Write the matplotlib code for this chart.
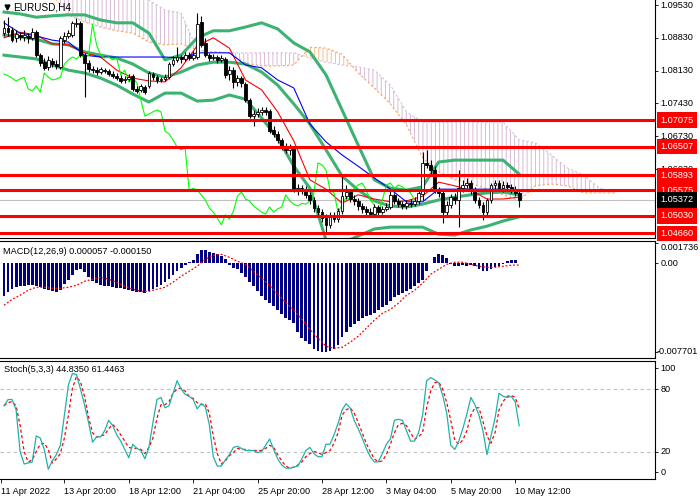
import matplotlib
matplotlib.use("Agg")
import matplotlib.pyplot as plt
import numpy as np

plt.rcParams['font.family'] = ['Liberation Sans', 'DejaVu Sans']
plt.rcParams['hatch.linewidth'] = 0.7

# EURUSD H4 candles
opens = [
    1.0893, 1.0904, 1.0900, 1.0883, 1.0889, 1.0885, 1.0887, 1.0883, 1.0895, 1.0846,
    1.0831, 1.0821, 1.0834, 1.0827, 1.0821, 1.0878, 1.0887, 1.0889, 1.0912, 1.0915,
    1.0846, 1.0829, 1.0816, 1.0814, 1.0810, 1.0814, 1.0812, 1.0806, 1.0802, 1.0797,
    1.0793, 1.0795, 1.0802, 1.0774, 1.0772, 1.0778, 1.0780, 1.0806, 1.0799, 1.0793,
    1.0795, 1.0799, 1.0827, 1.0836, 1.0842, 1.0838, 1.0846, 1.0840, 1.0842, 1.0917,
    1.0872, 1.0846, 1.0840, 1.0842, 1.0836, 1.0838, 1.0806, 1.0814, 1.0789, 1.0797,
    1.0784, 1.0750, 1.0716, 1.0720, 1.0725, 1.0729, 1.0727, 1.0686, 1.0678, 1.0665,
    1.0650, 1.0644, 1.0648, 1.0558, 1.0562, 1.0558, 1.0548, 1.0537, 1.0520, 1.0511,
    1.0498, 1.0484, 1.0505, 1.0496, 1.0513, 1.0545, 1.0554, 1.0539, 1.0535, 1.0524,
    1.0518, 1.0511, 1.0507, 1.0522, 1.0511, 1.0518, 1.0522, 1.0548, 1.0535, 1.0528,
    1.0524, 1.0530, 1.0528, 1.0535, 1.0550, 1.0616, 1.0612, 1.0601, 1.0558, 1.0552,
    1.0511, 1.0526, 1.0543, 1.0537, 1.0562, 1.0569, 1.0573, 1.0558, 1.0537, 1.0526,
    1.0511, 1.0537, 1.0569, 1.0573, 1.0562, 1.0569, 1.0565, 1.0558, 1.0552]
highs = [
    1.0921, 1.0927, 1.0906, 1.0900, 1.0895, 1.0900, 1.0893, 1.0904, 1.0900, 1.0851,
    1.0840, 1.0844, 1.0840, 1.0836, 1.0887, 1.0895, 1.0900, 1.0919, 1.0925, 1.0919,
    1.0851, 1.0836, 1.0823, 1.0821, 1.0821, 1.0819, 1.0816, 1.0812, 1.0808, 1.0804,
    1.0802, 1.0806, 1.0806, 1.0780, 1.0784, 1.0782, 1.0812, 1.0810, 1.0804, 1.0799,
    1.0806, 1.0831, 1.0844, 1.0863, 1.0846, 1.0853, 1.0853, 1.0855, 1.0936, 1.0930,
    1.0883, 1.0851, 1.0848, 1.0846, 1.0846, 1.0842, 1.0823, 1.0821, 1.0804, 1.0802,
    1.0789, 1.0755, 1.0729, 1.0733, 1.0735, 1.0735, 1.0731, 1.0695, 1.0684, 1.0669,
    1.0659, 1.0656, 1.0652, 1.0571, 1.0569, 1.0567, 1.0554, 1.0543, 1.0526, 1.0518,
    1.0507, 1.0511, 1.0511, 1.0520, 1.0592, 1.0569, 1.0558, 1.0548, 1.0541, 1.0530,
    1.0524, 1.0520, 1.0528, 1.0526, 1.0524, 1.0530, 1.0558, 1.0552, 1.0541, 1.0535,
    1.0537, 1.0539, 1.0543, 1.0558, 1.0639, 1.0644, 1.0622, 1.0609, 1.0565, 1.0558,
    1.0535, 1.0550, 1.0552, 1.0601, 1.0580, 1.0584, 1.0580, 1.0565, 1.0543, 1.0533,
    1.0541, 1.0573, 1.0580, 1.0580, 1.0577, 1.0575, 1.0571, 1.0567, 1.0558]
lows = [
    1.0887, 1.0887, 1.0874, 1.0874, 1.0878, 1.0876, 1.0872, 1.0878, 1.0842, 1.0823,
    1.0814, 1.0814, 1.0821, 1.0816, 1.0816, 1.0872, 1.0883, 1.0885, 1.0906, 1.0842,
    1.0757, 1.0810, 1.0808, 1.0804, 1.0806, 1.0808, 1.0802, 1.0797, 1.0793, 1.0787,
    1.0787, 1.0791, 1.0770, 1.0765, 1.0767, 1.0763, 1.0776, 1.0793, 1.0787, 1.0789,
    1.0791, 1.0795, 1.0823, 1.0831, 1.0829, 1.0834, 1.0836, 1.0836, 1.0838, 1.0863,
    1.0842, 1.0834, 1.0836, 1.0829, 1.0831, 1.0797, 1.0793, 1.0776, 1.0780, 1.0778,
    1.0746, 1.0712, 1.0695, 1.0714, 1.0718, 1.0718, 1.0680, 1.0671, 1.0659, 1.0644,
    1.0637, 1.0633, 1.0554, 1.0548, 1.0550, 1.0541, 1.0528, 1.0511, 1.0505, 1.0490,
    1.0467, 1.0477, 1.0490, 1.0490, 1.0507, 1.0539, 1.0533, 1.0526, 1.0516, 1.0509,
    1.0503, 1.0501, 1.0501, 1.0505, 1.0507, 1.0513, 1.0518, 1.0528, 1.0522, 1.0518,
    1.0518, 1.0522, 1.0524, 1.0528, 1.0537, 1.0605, 1.0592, 1.0552, 1.0543, 1.0488,
    1.0505, 1.0520, 1.0528, 1.0479, 1.0554, 1.0562, 1.0550, 1.0530, 1.0520, 1.0494,
    1.0505, 1.0530, 1.0558, 1.0556, 1.0554, 1.0558, 1.0552, 1.0545, 1.0522]
closes = [
    1.0904, 1.0895, 1.0878, 1.0891, 1.0885, 1.0889, 1.0883, 1.0895, 1.0846, 1.0829,
    1.0819, 1.0836, 1.0827, 1.0823, 1.0883, 1.0887, 1.0893, 1.0915, 1.0915, 1.0846,
    1.0829, 1.0816, 1.0814, 1.0810, 1.0816, 1.0812, 1.0806, 1.0802, 1.0797, 1.0791,
    1.0795, 1.0799, 1.0774, 1.0770, 1.0780, 1.0767, 1.0808, 1.0799, 1.0793, 1.0795,
    1.0799, 1.0827, 1.0836, 1.0842, 1.0838, 1.0846, 1.0840, 1.0846, 1.0912, 1.0868,
    1.0846, 1.0840, 1.0842, 1.0836, 1.0840, 1.0804, 1.0814, 1.0789, 1.0797, 1.0787,
    1.0750, 1.0716, 1.0720, 1.0725, 1.0729, 1.0725, 1.0684, 1.0678, 1.0665, 1.0650,
    1.0644, 1.0648, 1.0558, 1.0562, 1.0558, 1.0548, 1.0537, 1.0520, 1.0511, 1.0498,
    1.0484, 1.0505, 1.0496, 1.0513, 1.0545, 1.0554, 1.0539, 1.0535, 1.0524, 1.0518,
    1.0511, 1.0507, 1.0522, 1.0511, 1.0518, 1.0522, 1.0548, 1.0535, 1.0528, 1.0524,
    1.0530, 1.0528, 1.0535, 1.0552, 1.0616, 1.0612, 1.0601, 1.0558, 1.0552, 1.0511,
    1.0526, 1.0543, 1.0537, 1.0562, 1.0569, 1.0573, 1.0558, 1.0537, 1.0526, 1.0511,
    1.0537, 1.0569, 1.0573, 1.0562, 1.0569, 1.0565, 1.0558, 1.0552, 1.05372]

# indicator lines, one value every 4 bars
bb_upper = [1.0938, 1.0934, 1.0927, 1.0930, 1.0932, 1.0932, 1.0921, 1.0915, 1.0915, 1.0893,
            1.0836, 1.0846, 1.0883, 1.0898, 1.0898, 1.0906, 1.0915, 1.0902, 1.0872, 1.0853,
            1.0804, 1.0729, 1.0654, 1.0580, 1.0562, 1.0558, 1.0565, 1.0618, 1.0622, 1.0622,
            1.0622, 1.0622, 1.0592]
bb_middle = [1.0889, 1.0885, 1.0880, 1.0870, 1.0868, 1.0853, 1.0846, 1.0840, 1.0827, 1.0808,
             1.0799, 1.0810, 1.0825, 1.0831, 1.0831, 1.0827, 1.0810, 1.0782, 1.0742, 1.0699,
             1.0644, 1.0588, 1.0558, 1.0535, 1.0524, 1.0522, 1.0528, 1.0537, 1.0543, 1.0548,
             1.0552, 1.0554, 1.0548]
bb_lower = [1.0846, 1.0842, 1.0838, 1.0825, 1.0814, 1.0808, 1.0797, 1.0782, 1.0763, 1.0746,
            1.0765, 1.0765, 1.0748, 1.0750, 1.0761, 1.0752, 1.0712, 1.0669, 1.0609, 1.0562,
            1.0452, 1.0445, 1.0460, 1.0475, 1.0479, 1.0479, 1.0479, 1.0464, 1.0462, 1.0473,
            1.0481, 1.0492, 1.0501]
tenkan = [1.0883, 1.0895, 1.0889, 1.0870, 1.0868, 1.0851, 1.0842, 1.0814, 1.0797, 1.0791,
          1.0789, 1.0819, 1.0866, 1.0883, 1.0861, 1.0793, 1.0772, 1.0725, 1.0663, 1.0580,
          1.0560, 1.0530, 1.0548, 1.0539, 1.0533, 1.0535, 1.0545, 1.0575, 1.0567, 1.0558,
          1.0539, 1.0539, 1.0543]
kijun = [1.0915, 1.0893, 1.0887, 1.0878, 1.0874, 1.0846, 1.0842, 1.0842, 1.0842, 1.0842,
         1.0842, 1.0840, 1.0851, 1.0851, 1.0851, 1.0825, 1.0819, 1.0793, 1.0776, 1.0699,
         1.0661, 1.0633, 1.0609, 1.0584, 1.0560, 1.0533, 1.0533, 1.0560, 1.0560, 1.0560,
         1.0560, 1.0560, 1.0558]
senkou_a = [1.0996, 1.0996, 1.0985, 1.0974, 1.0932, 1.0917, 1.0906, 1.0898, 1.0893, 1.0874,
            1.0868, 1.0870, 1.0857, 1.0853, 1.0851, 1.0829, 1.0823, 1.0823, 1.0825, 1.0863,
            1.0861, 1.0848, 1.0808, 1.0776, 1.0742, 1.0697, 1.0627, 1.0597, 1.0580, 1.0573,
            1.0560, 1.0548, 1.0535, 1.0567, 1.0571, 1.0567, 1.0552, 1.0552, 1.0552]
senkou_b = [1.0996, 1.0996, 1.0989, 1.0985, 1.0974, 1.0974, 1.0974, 1.0974, 1.0970, 1.0964,
            1.0942, 1.0936, 1.0857, 1.0853, 1.0851, 1.0851, 1.0851, 1.0851, 1.0851, 1.0840,
            1.0831, 1.0825, 1.0821, 1.0814, 1.0782, 1.0725, 1.0703, 1.0703, 1.0703, 1.0703,
            1.0703, 1.0703, 1.0665, 1.0659, 1.0633, 1.0605, 1.0590, 1.0562, 1.0554]

levels = [1.07075, 1.06507, 1.05893, 1.05575, 1.05030, 1.04660]
price_ticks = [1.09530, 1.08830, 1.08130, 1.07430, 1.06730, 1.06030]

# MACD(12,26,9)
macd_hist = [
    -0.00287, -0.00253, -0.00226, -0.00209, -0.00200, -0.00200, -0.00192, -0.00192, -0.00200, -0.00209,
    -0.00226, -0.00235, -0.00244, -0.00253, -0.00235, -0.00183, -0.00148, -0.00105, -0.00061, -0.00052,
    -0.00078, -0.00122, -0.00157, -0.00174, -0.00192, -0.00200, -0.00200, -0.00209, -0.00218, -0.00218,
    -0.00226, -0.00235, -0.00244, -0.00253, -0.00253, -0.00261, -0.00244, -0.00226, -0.00209, -0.00192,
    -0.00165, -0.00139, -0.00105, -0.00070, -0.00044, -0.00017, 0.00009, 0.00026, 0.00078, 0.00113,
    0.00113, 0.00096, 0.00087, 0.00078, 0.00061, 0.00035, -0.00017, -0.00044, -0.00052, -0.00087,
    -0.00122, -0.00165, -0.00200, -0.00244, -0.00287, -0.00322, -0.00348, -0.00375, -0.00409, -0.00444,
    -0.00479, -0.00496, -0.00523, -0.00601, -0.00653, -0.00679, -0.00706, -0.00749, -0.00766, -0.00770,
    -0.00770, -0.00768, -0.00749, -0.00714, -0.00645, -0.00601, -0.00557, -0.00531, -0.00505, -0.00479,
    -0.00462, -0.00453, -0.00436, -0.00409, -0.00383, -0.00366, -0.00331, -0.00296, -0.00279, -0.00261,
    -0.00244, -0.00226, -0.00200, -0.00174, -0.00148, -0.00070, 0.00000, 0.00052, 0.00078, 0.00070,
    0.00044, -0.00009, -0.00026, -0.00026, -0.00017, -0.00026, -0.00017, -0.00026, -0.00052, -0.00070,
    -0.00070, -0.00052, -0.00035, -0.00026, -0.00009, 0.00017, 0.00026, 0.00026, 0.000057]
# signal line, one value every 2 bars
macd_signal = [
    -0.00366, -0.00314, -0.00279, -0.00235, -0.00209, -0.00209, -0.00218, -0.00218, -0.00209, -0.00192,
    -0.00157, -0.00139, -0.00122, -0.00139, -0.00165, -0.00200, -0.00226, -0.00244, -0.00244, -0.00226,
    -0.00209, -0.00165, -0.00113, -0.00070, -0.00026, 0.00035, 0.00070, 0.00078, 0.00052, 0.00017,
    -0.00009, -0.00070, -0.00131, -0.00192, -0.00270, -0.00340, -0.00409, -0.00488, -0.00575, -0.00653,
    -0.00723, -0.00740, -0.00732, -0.00688, -0.00636, -0.00566, -0.00496, -0.00436, -0.00401, -0.00348,
    -0.00279, -0.00235, -0.00174, -0.00096, -0.00052, -0.00009, 0.00009, 0.00009, -0.00009, -0.00026,
    -0.00035, -0.00035, -0.00026, -0.00017, -0.00015]

# Stochastic(5,3,3)
stoch_main = [
    64, 70, 70, 60, 20, 8, 9, 10, 35, 33,
    22, 3, 11, 17, 26, 55, 84, 95, 94, 80,
    65, 48, 29, 34, 34, 40, 50, 45, 36, 30,
    22, 14, 27, 23, 21, 13, 24, 48, 70, 72,
    62, 64, 76, 88, 80, 75, 73, 70, 61, 66,
    63, 46, 15, 6, 6, 12, 17, 24, 25, 23,
    21, 21, 21, 19, 20, 26, 32, 22, 13, 7,
    4, 4, 5, 6, 13, 21, 24, 18, 15, 15,
    27, 27, 36, 47, 60, 66, 62, 50, 42, 33,
    23, 15, 10, 10, 18, 27, 32, 50, 51, 50,
    40, 30, 30, 38, 55, 88, 91, 89, 86, 74,
    57, 26, 22, 30, 42, 56, 72, 65, 55, 40,
    17, 35, 52, 76, 73, 72, 73, 68, 44.835]
stoch_signal = [
    64, 67, 68, 64, 45, 20, 10, 12, 20, 27,
    28, 22, 9, 13, 18, 33, 55, 81, 92, 87,
    73, 53, 38, 34, 35, 36, 42, 46, 42, 36,
    30, 24, 23, 23, 22, 18, 24, 33, 52, 65,
    65, 68, 76, 80, 81, 78, 73, 71, 67, 65,
    66, 57, 35, 18, 8, 11, 16, 19, 23, 22,
    22, 21, 21, 21, 21, 23, 26, 24, 17, 11,
    6, 4, 5, 7, 10, 15, 18, 20, 19, 17,
    19, 21, 28, 38, 55, 60, 62, 57, 48, 38,
    28, 20, 13, 10, 11, 17, 27, 38, 46, 47,
    45, 38, 32, 34, 38, 62, 78, 86, 87, 80,
    67, 50, 31, 27, 31, 40, 55, 62, 62, 49,
    35, 28, 38, 60, 68, 73, 74, 72, 61.4463]

date_ticks = [-0.75, 15, 31, 47, 63, 79, 95, 111, 127]
date_labels = ['11 Apr 2022', '13 Apr 20:00', '18 Apr 12:00', '21 Apr 04:00', '25 Apr 20:00',
               '28 Apr 12:00', '3 May 04:00', '5 May 20:00', '10 May 12:00']

o = np.array(opens); h = np.array(highs); l = np.array(lows); c = np.array(closes)
bars = np.arange(len(c))
x_ind = np.arange(0, len(c), 4)
x_cloud = np.arange(0, 4 * len(senkou_a), 4)
x_sig = np.arange(0, len(c), 2)
sa = np.array(senkou_a); sb = np.array(senkou_b)
last = closes[-1]

fig = plt.figure(figsize=(7, 5), dpi=100)
ax = fig.add_axes([0, 0.524, 0.93571, 0.476])
ax_m = fig.add_axes([0, 0.284, 0.93571, 0.234])
ax_s = fig.add_axes([0, 0.042, 0.93571, 0.236])

for a in (ax, ax_m, ax_s):
    a.set_xlim(-1, 161.75)
    a.spines['left'].set_visible(False)
    for s in ('right', 'top', 'bottom'):
        a.spines[s].set_linewidth(0.8)
    a.yaxis.tick_right()
    a.tick_params(axis='y', length=2, width=0.6, labelright=False, labelleft=False)
    a.tick_params(axis='x', bottom=False, labelbottom=False)
ax.spines['top'].set_visible(False)


def right_label(a, y, text, fc=None, trans=None, x=1.0085):
    tr = trans if trans is not None else a.get_yaxis_transform()
    kw = dict(transform=tr, fontsize=6.6, va='center', ha='left', clip_on=False, zorder=7)
    if fc:
        a.text(x, y, text, color='white',
               bbox=dict(facecolor=fc, edgecolor='none', boxstyle='square,pad=0.35'), **kw)
    else:
        a.text(x, y, text, color='black', **kw)


# ---- main price window ----
ax.set_ylim(1.04558, 1.09637)
ax.fill_between(x_cloud, sa, sb, where=sb >= sa, interpolate=True, facecolor='none',
                edgecolor='#D5B9D5', hatch='||||', lw=0, zorder=1)
ax.fill_between(x_cloud, sa, sb, where=sa > sb, interpolate=True, facecolor='none',
                edgecolor='#F4BE90', hatch='||||', lw=0, zorder=1)
ax.plot(x_cloud, sa, color='#F4A460', ls=(0, (2, 2)), lw=0.8, zorder=1.1)
ax.plot(x_cloud, sb, color='#D8BFD8', ls=(0, (2, 2)), lw=0.8, zorder=1.1)
ax.axhline(last, color='#C0C0C0', lw=0.8, zorder=1.2)

ax.plot(x_ind, bb_upper, color='#3CB371', lw=2.2, zorder=2)
ax.plot(x_ind, bb_middle, color='#3CB371', lw=2.2, zorder=2)
ax.plot(x_ind, bb_lower, color='#3CB371', lw=2.2, zorder=2)
ax.plot(x_ind, tenkan, color='red', lw=0.8, zorder=2.5)
ax.plot(x_ind, kijun, color='#0000FF', lw=0.8, zorder=2.5)
ax.plot(bars[:-26], c[26:], color='#00FF00', lw=0.8, zorder=2.5)

ax.vlines(bars, l, h, color='black', lw=0.8, zorder=3)
body = np.maximum(np.abs(c - o), 0.00004)
ax.bar(bars, body, bottom=np.minimum(o, c), width=0.7,
       color=np.where(c >= o, 'white', 'black'), edgecolor='black', lw=0.6, zorder=3.1)

for lvl in levels:
    ax.axhline(lvl, color='red', lw=2.2, zorder=4)

ax.set_yticks(price_ticks)
for t in price_ticks:
    right_label(ax, t, f'{t:.5f}')
for lvl in levels:
    right_label(ax, lvl, f'{lvl:.5f}', fc='red')
right_label(ax, last, f'{last:.5f}', fc='black')

ax.plot(7 / 655, 1 - 7 / 238, marker='v', ms=3.5, color='black',
        transform=ax.transAxes, clip_on=False, zorder=8)
ax.text(13 / 655, 1 - 8 / 238, 'EURUSD,H4', transform=ax.transAxes, fontsize=7.2,
        va='center', ha='left', zorder=8)

# ---- MACD window ----
ax_m.set_ylim(-0.00825, 0.00194)
ax_m.bar(bars, macd_hist, width=0.7, color='#000080', zorder=2)
ax_m.plot(x_sig, macd_signal, color='red', ls=(0, (1.5, 1.5)), lw=0.9, zorder=3)
ax_m.set_yticks([0.001736, 0.0, -0.007701])
right_label(ax_m, 1 - 7 / 117, '0.001736', trans=ax_m.transAxes)
right_label(ax_m, 0.0, '0.00')
right_label(ax_m, -0.007701, '-0.007701', x=1.002)
ax_m.text(3 / 655, 1 - 10 / 117, 'MACD(12,26,9) 0.000057 -0.000150', transform=ax_m.transAxes,
          fontsize=6.6, va='center', ha='left')

# ---- Stochastic window ----
ax_s.set_ylim(-6.4, 107)
ax_s.axhline(80, color='#C0C0C0', ls=(0, (3, 3)), lw=0.8, zorder=1)
ax_s.axhline(20, color='#C0C0C0', ls=(0, (3, 3)), lw=0.8, zorder=1)
ax_s.plot(bars, stoch_main, color='#20B2AA', lw=0.9, zorder=3)
ax_s.plot(bars, stoch_signal, color='red', ls=(0, (2.5, 2)), lw=0.9, zorder=2)
ax_s.set_yticks([100, 80, 20, 0])
for v in (100, 80, 20, 0):
    right_label(ax_s, v, str(v))
ax_s.text(4 / 655, 1 - 9 / 118, 'Stoch(5,3,3) 44.8350 61.4463', transform=ax_s.transAxes,
          fontsize=6.6, va='center', ha='left')

ax_s.set_xticks(date_ticks)
ax_s.set_xticklabels(date_labels, ha='left', fontsize=6.6)
ax_s.tick_params(axis='x', bottom=True, labelbottom=True, length=3, width=0.6, pad=3)

fig.savefig('out.png', dpi=100)
